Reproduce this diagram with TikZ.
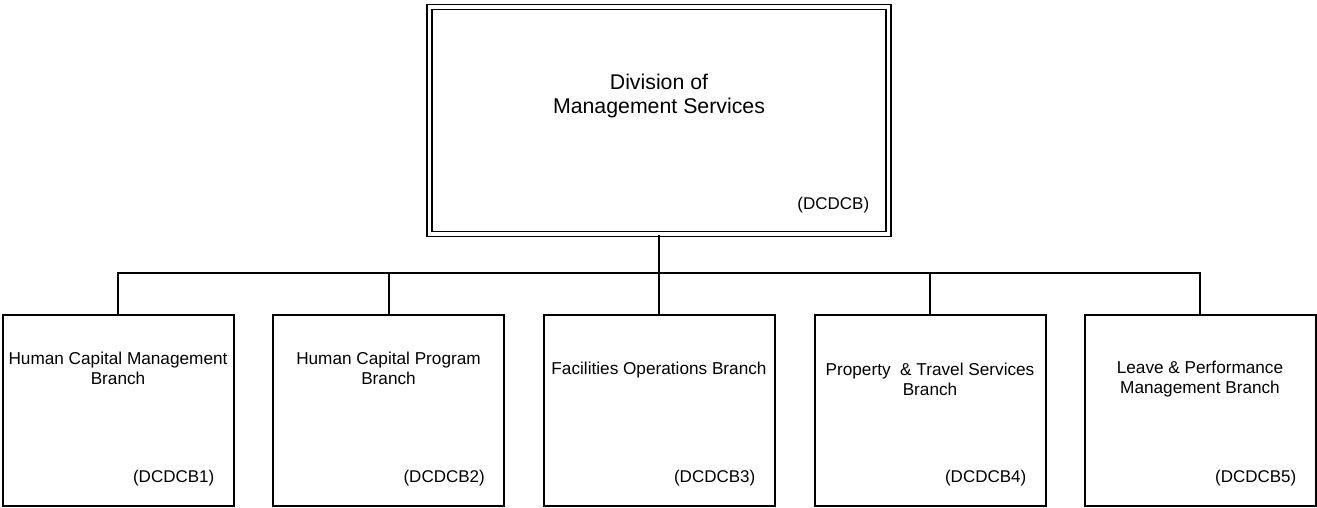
\documentclass[tikz,border=0pt]{standalone}
\usepackage{fontspec}
\setmainfont{Liberation Sans}
\usetikzlibrary{positioning}

\tikzset{
  divbox/.style={draw, double, line width=1.8pt, double distance=3.2pt,
    minimum width=459pt, minimum height=227pt, inner sep=0pt},
  branchbox/.style={draw, line width=2pt, minimum width=231pt,
    minimum height=191pt, inner sep=0pt},
  boxtitle/.style={align=center, inner sep=0pt, font=\fontsize{17.2}{20}\selectfont},
  boxcode/.style={anchor=east, inner sep=0pt, font=\fontsize{17}{20}\selectfont},
  link/.style={line width=2pt}
}

\begin{document}
\begin{tikzpicture}[x=1pt, y=-1pt]
\useasboundingbox (0,0) rectangle (1317,508);

% division
\node (div) [divbox] at (659,120.5) {};
\node (divtitle) at (div.north) [yshift=-90pt, align=center, inner sep=0pt,
  font=\fontsize{21.3}{24}\selectfont] {Division of\\Management Services};
\node (divcode) at (div.south east) [boxcode, xshift=-20pt, yshift=30pt] {(DCDCB)};

% branches
\node (b1) [branchbox] at (118,410) {};
\node (b2) [branchbox] at (388.5,410) {};
\node (b3) [branchbox] at (659,410) {};
\node (b4) [branchbox] at (930,410) {};
\node (b5) [branchbox] at (1200,410) {};

\node (t1) at (b1.north) [boxtitle, yshift=-55pt] {Human Capital Management\\Branch};
\node (t2) at (b2.north) [boxtitle, yshift=-55pt] {Human Capital Program\\Branch};
\node (t3) at (b3.north) [boxtitle, yshift=-57pt] {Facilities Operations Branch};
\node (t4) at (b4.north) [boxtitle, yshift=-66pt] {Property~ \& Travel Services\\Branch};
\node (t5) at (b5.north) [boxtitle, yshift=-66pt] {Leave \& Performance\\Management Branch};

\node (c1) at (b1.south east) [boxcode, xshift=-20pt, yshift=28pt] {(DCDCB1)};
\node (c2) at (b2.south east) [boxcode, xshift=-20pt, yshift=28pt] {(DCDCB2)};
\node (c3) at (b3.south east) [boxcode, xshift=-20pt, yshift=28pt] {(DCDCB3)};
\node (c4) at (b4.south east) [boxcode, xshift=-20pt, yshift=28pt] {(DCDCB4)};
\node (c5) at (b5.south east) [boxcode, xshift=-20pt, yshift=28pt] {(DCDCB5)};

% connectors
\coordinate (bus) at (659,273);
\draw [link] (div.south) -- (bus) -- (b3.north);
\foreach \b in {b1,b2,b4,b5}
  \draw [link] (\b.north) |- (bus);
\end{tikzpicture}
\end{document}
